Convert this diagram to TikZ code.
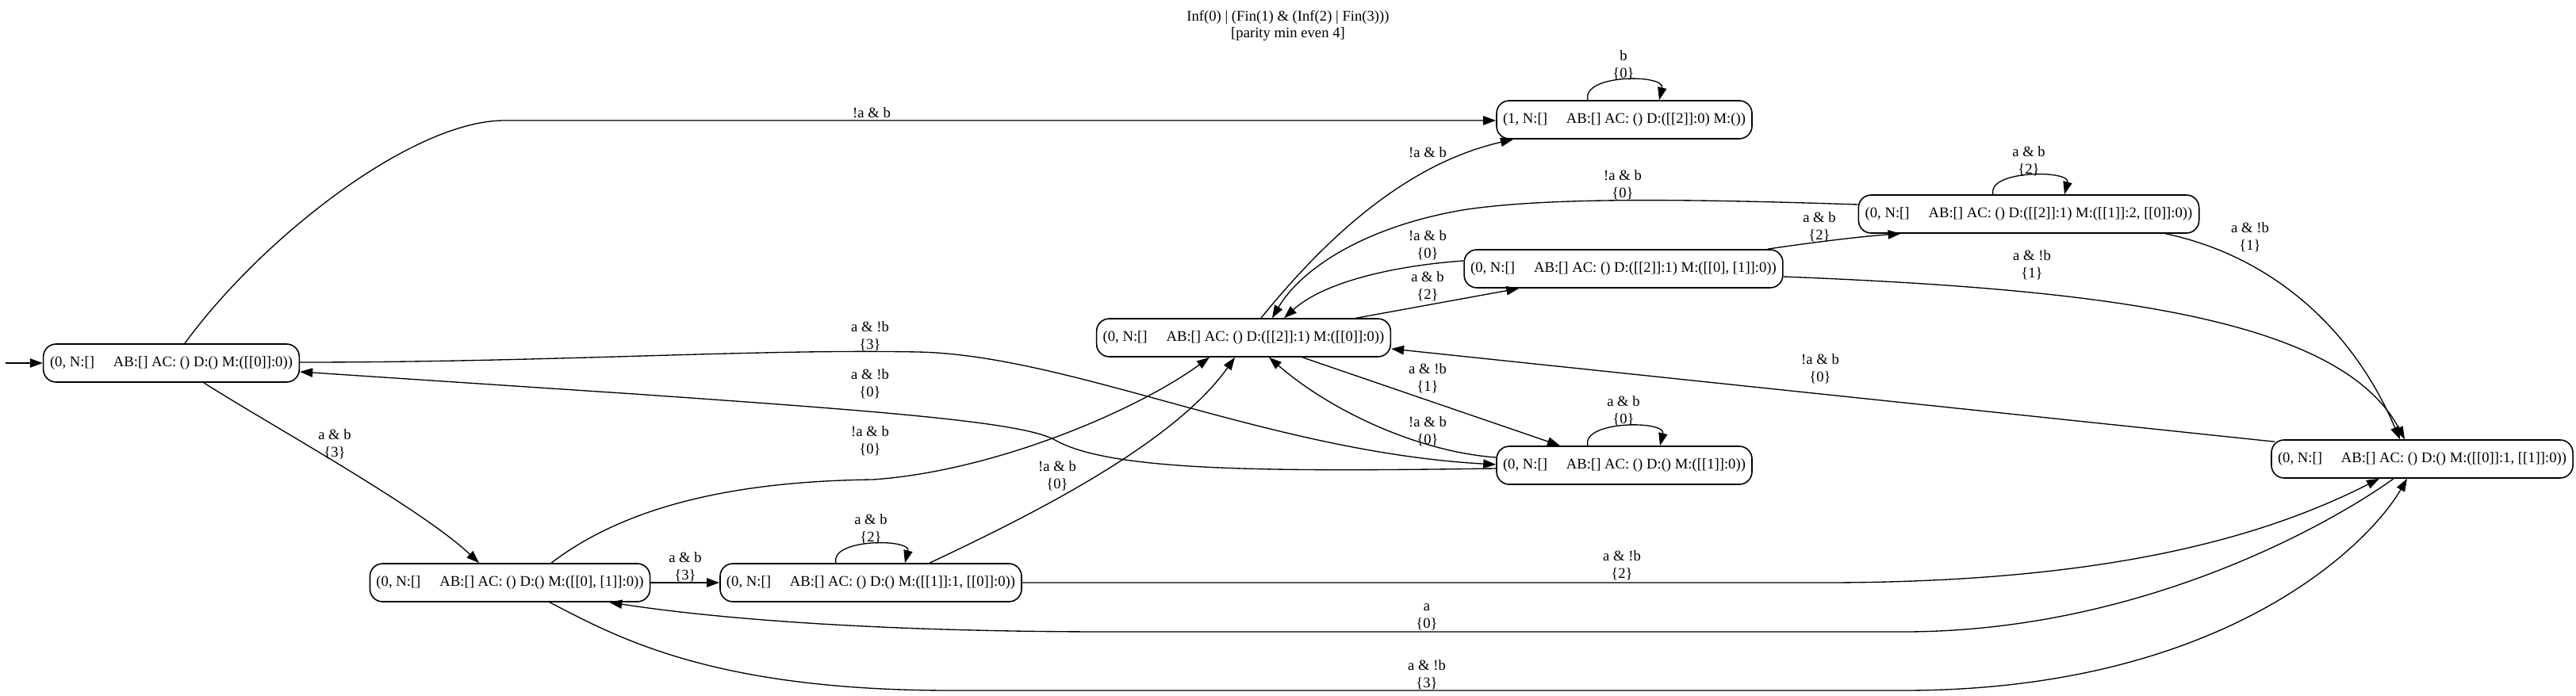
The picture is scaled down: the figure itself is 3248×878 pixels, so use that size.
\documentclass[tikz,border=0pt]{standalone}
\usepackage{fontspec}
\setmainfont{Liberation Serif}
\usetikzlibrary{arrows.meta,calc}
\newcommand\stgap{\hspace{18pt}}
\begin{document}
\begin{tikzpicture}[x=0.75pt,y=-0.75pt,
  state/.style={draw, line width=1.2pt, rounded corners=12pt, minimum height=36pt,
    inner xsep=6pt, inner ysep=0pt, font=\fontsize{14}{16.5}\selectfont},
  lbl/.style={align=center, inner sep=0pt, font=\fontsize{14}{16.5}\selectfont},
  edge/.style={draw, line width=1pt, -{Triangle[length=12pt,width=8.5pt]}}]
\useasboundingbox (0,0) rectangle (3248,878);

% title
\node[lbl] (t1) at (1624,22) {Inf(0) | (Fin(1) \& (Inf(2) | Fin(3)))};
\node[lbl] (t2) at (1624,43) {[parity min even 4]};

% states
\node[state, minimum width=242pt] (S0) at (216,458) {(0, N:[]\stgap AB:[] AC: () D:() M:([[0]]:0))};
\node[state, minimum width=241pt] (S1) at (2048,151) {(1, N:[]\stgap AB:[] AC: () D:([[2]]:0) M:())};
\node[state, minimum width=322pt] (S2) at (2558,270) {(0, N:[]\stgap AB:[] AC: () D:([[2]]:1) M:([[1]]:2, [[0]]:0))};
\node[state, minimum width=300pt] (S3) at (2047,339) {(0, N:[]\stgap AB:[] AC: () D:([[2]]:1) M:([[0], [1]]:0))};
\node[state, minimum width=276pt] (S4) at (1568,426) {(0, N:[]\stgap AB:[] AC: () D:([[2]]:1) M:([[0]]:0))};
\node[state, minimum width=240pt] (S5) at (2048,587) {(0, N:[]\stgap AB:[] AC: () D:() M:([[1]]:0))};
\node[state, minimum width=285pt] (S6) at (3054,579) {(0, N:[]\stgap AB:[] AC: () D:() M:([[0]]:1, [[1]]:0))};
\node[state, minimum width=263pt] (S7) at (643,735) {(0, N:[]\stgap AB:[] AC: () D:() M:([[0], [1]]:0))};
\node[state, minimum width=284pt] (S8) at (1098,735) {(0, N:[]\stgap AB:[] AC: () D:() M:([[1]]:1, [[0]]:0))};

% initial arrow
\coordinate (init) at (7,458);
\draw[edge] (init) -- (S0.west);

% S0 -> S1
\draw[edge] ($(S0.north)+(17,0)$) .. controls (330,300) and (520,152) .. (636,152) -- ($(S1.west)+(0,1)$);
\node[lbl] (l01) at (1099,142) {!a \& b};

% S0 -> S7
\draw[edge] ($(S0.south)+(41,0)$) .. controls (330,530) and (530,640) .. ($(S7.north)+(-39,0)$);
\node[lbl] (l07) at (422,560) {a \& b\\\{3\}};

% S0 -> S5
\draw[edge] ($(S0.east)+(0,-1)$) .. controls (700,457) and (950,440) .. (1157,444)
  .. controls (1350,448) and (1600,570) .. ($(S5.west)+(0,-1)$);
\node[lbl] (l05) at (1097,424) {a \& !b\\\{3\}};

% S5 -> S0
\draw[edge] ($(S5.west)+(0,4)$) .. controls (1600,595) and (1400,595) .. (1330,555)
  .. controls (1290,532) and (1100,518) .. (800,497) -- ($(S0.east)+(0,11)$);
\node[lbl] (l50) at (1097,484) {a \& !b\\\{0\}};

% S1 loop
\draw[edge] ($(S1.north)+(-46,0)$) .. controls ($(S1.north)+(-54,-33)$) and ($(S1.north)+(52,-33)$) .. ($(S1.north)+(44,0)$);
\node[lbl] (l11) at (2047,82) {b\\\{0\}};

% S4 -> S1
\draw[edge] ($(S4.north)+(22,0)$) .. controls (1680,290) and (1780,205) .. ($(S1.south)+(-140,0)$);
\node[lbl] (l41) at (1800,192) {!a \& b};

% S2 -> S4
\draw[edge] ($(S2.west)+(0,-12)$) .. controls (2100,250) and (1950,250) .. (1850,264)
  .. controls (1720,285) and (1640,340) .. ($(S4.north)+(36,0)$);
\node[lbl] (l24) at (2046,233) {!a \& b\\\{0\}};

% S3 -> S2
\draw[edge] ($(S3.north east)+(-20,0)$) .. controls (2290,305) and (2350,298) .. ($(S2.south west)+(54,0)$);
\node[lbl] (l32) at (2294,286) {a \& b\\\{2\}};

% S2 loop
\draw[edge] ($(S2.north)+(-45,0)$) .. controls ($(S2.north)+(-53,-31)$) and ($(S2.north)+(53,-31)$) .. ($(S2.north)+(45,0)$);
\node[lbl] (l22) at (2558,203) {a \& b\\\{2\}};

% S2 -> S6
\draw[edge] ($(S2.south east)+(-43,0)$) .. controls (2850,320) and (2960,400) .. ($(S6.north)+(-28,0)$);
\node[lbl] (l26) at (2837,299) {a \& !b\\\{1\}};

% S3 -> S4
\draw[edge] ($(S3.west)+(0,-10)$) .. controls (1760,335) and (1670,355) .. ($(S4.north)+(51,0)$);
\node[lbl] (l34) at (1800,309) {!a \& b\\\{0\}};

% S4 -> S3
\draw[edge] ($(S4.north east)+(-44,0)$) -- ($(S3.south west)+(70,0)$);
\node[lbl] (l43) at (1800,361) {a \& b\\\{2\}};

% S3 -> S6
\draw[edge] ($(S3.east)+(0,10)$) .. controls (2650,365) and (2950,400) .. ($(S6.north)+(-22,0)$);
\node[lbl] (l36) at (2562,334) {a \& !b\\\{1\}};

% S6 -> S4
\draw[edge] ($(S6.north west)+(5,3)$) -- ($(S4.east)+(0,14)$);
\node[lbl] (l64) at (2295,465) {!a \& b\\\{0\}};

% S4 -> S5
\draw[edge] ($(S4.south east)+(-112,0)$) -- ($(S5.north)+(-81,0)$);
\node[lbl] (l45) at (1800,477) {a \& !b\\\{1\}};

% S5 -> S4
\draw[edge] ($(S5.west)+(0,-10)$) .. controls (1790,570) and (1680,520) .. ($(S4.south)+(32,0)$);
\node[lbl] (l54) at (1800,544) {!a \& b\\\{0\}};

% S5 loop
\draw[edge] ($(S5.north)+(-46,0)$) .. controls ($(S5.north)+(-54,-32)$) and ($(S5.north)+(53,-32)$) .. ($(S5.north)+(45,0)$);
\node[lbl] (l55) at (2047,518) {a \& b\\\{0\}};

% S7 -> S8
\draw[edge] (S7.east) -- (S8.west);
\node[lbl] (l78) at (864,715) {a \& b\\\{3\}};

% S8 loop
\draw[edge] ($(S8.north)+(-44,0)$) .. controls ($(S8.north)+(-52,-31)$) and ($(S8.north)+(51,-31)$) .. ($(S8.north)+(43,0)$);
\node[lbl] (l88) at (1098,667) {a \& b\\\{2\}};

% S7 -> S4
\draw[edge] ($(S7.north)+(52,0)$) .. controls (800,630) and (950,607) .. (1100,605)
  .. controls (1250,595) and (1430,520) .. ($(S4.south)+(-43,0)$);
\node[lbl] (l74) at (1097,556) {!a \& b\\\{0\}};

% S8 -> S4
\draw[edge] ($(S8.north)+(74,0)$) .. controls (1300,650) and (1480,560) .. ($(S4.south)+(-11,0)$);
\node[lbl] (l84) at (1333,600) {!a \& b\\\{0\}};

% S8 -> S6
\draw[edge] (S8.east) -- (2300,735) .. controls (2650,735) and (2850,680) .. ($(S6.south)+(-54,0)$);
\node[lbl] (l86) at (2045,713) {a \& !b\\\{2\}};

% S6 -> S7
\draw[edge] ($(S6.south)+(-36,0)$) .. controls (2940,660) and (2700,797) .. (2400,797) -- (1400,797)
  .. controls (1100,797) and (900,780) .. ($(S7.south east)+(-52,0)$);
\node[lbl] (l67) at (1799,778) {a\\\{0\}};

% S7 -> S6
\draw[edge] ($(S7.south)+(50,0)$) .. controls (780,805) and (900,871) .. (1200,871) -- (2400,871)
  .. controls (2800,871) and (2985,690) .. ($(S6.south)+(-19,0)$);
\node[lbl] (l76) at (1799,851) {a \& !b\\\{3\}};

\end{tikzpicture}
\end{document}
